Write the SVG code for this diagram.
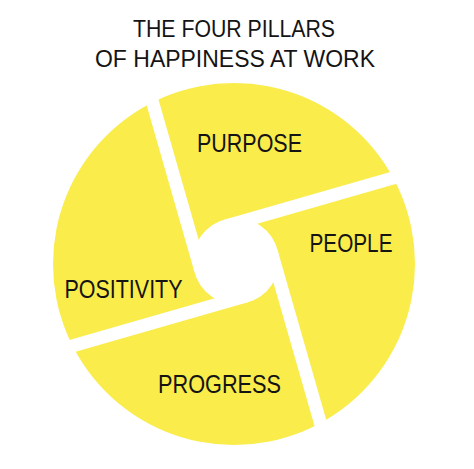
<svg xmlns="http://www.w3.org/2000/svg" width="474" height="469" viewBox="0 0 474 469">
  <style>
    .title { font-family: "Liberation Sans", Arial, sans-serif; font-size: 24px; fill: #141414; text-anchor: middle; }
    .label { font-family: "Liberation Sans", Arial, sans-serif; font-size: 25px; fill: #141414; text-anchor: middle; }
    .gap { fill: #ffffff; }
  </style>
  <defs>
    <rect id="stripe" x="0" y="-43" width="200" height="13"/>
  </defs>
  <rect x="0" y="0" width="474" height="469" fill="#ffffff"/>

  <g id="wheel">
    <circle cx="234" cy="264" r="181" fill="#F9EC4B"/>
  </g>

  <g id="connectors">
    <g class="gap" transform="translate(236 261)">
      <use href="#stripe" transform="rotate(-106)"/>
      <use href="#stripe" transform="rotate(-16)"/>
      <use href="#stripe" transform="rotate(74)"/>
      <use href="#stripe" transform="rotate(164)"/>
    </g>
    <circle id="hub" cx="236" cy="261" r="43" fill="#ffffff"/>
  </g>

  <g id="title">
    <text class="title" x="234" y="37" textLength="202" lengthAdjust="spacingAndGlyphs">THE FOUR PILLARS</text>
    <text class="title" x="235" y="67" textLength="280" lengthAdjust="spacingAndGlyphs">OF HAPPINESS AT WORK</text>
  </g>

  <g id="purpose">
    <text class="label" x="249.5" y="152" textLength="105" lengthAdjust="spacingAndGlyphs">PURPOSE</text>
  </g>
  <g id="people">
    <text class="label" x="351" y="252" textLength="83" lengthAdjust="spacingAndGlyphs">PEOPLE</text>
  </g>
  <g id="progress">
    <text class="label" x="219.5" y="393" textLength="123" lengthAdjust="spacingAndGlyphs">PROGRESS</text>
  </g>
  <g id="positivity">
    <text class="label" x="123.5" y="298" textLength="118" lengthAdjust="spacingAndGlyphs">POSITIVITY</text>
  </g>
</svg>
